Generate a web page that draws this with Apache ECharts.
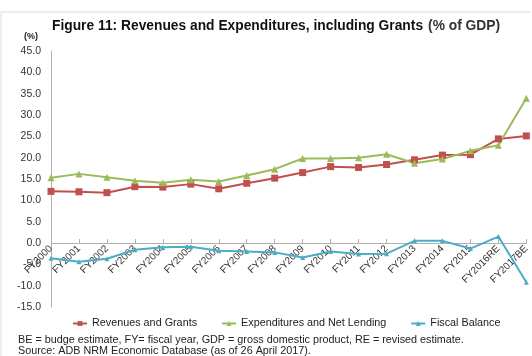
<!DOCTYPE html>
<html>
<head>
<meta charset="utf-8">
<script src="https://cdn.jsdelivr.net/npm/echarts@6/dist/echarts.min.js"></script>
<style>
  html, body { margin: 0; padding: 0; background: #fff; }
  #chart { width: 532px; height: 356px; }
</style>
</head>
<body>
<div id="chart"></div>
<script>
var years = ["FY2000", "FY2001", "FY2002", "FY2003", "FY2004", "FY2005", "FY2006", "FY2007", "FY2008",
    "FY2009", "FY2010", "FY2011", "FY2012", "FY2013", "FY2014", "FY2015", "FY2016RE", "FY2017BE"];
var revenues = [12.1, 12.0, 11.8, 13.2, 13.1, 13.8, 12.7, 14.0, 15.2, 16.5, 17.9, 17.7, 18.4, 19.5, 20.6, 20.7, 24.4, 25.1];
var expenditures = [15.3, 16.2, 15.4, 14.6, 14.1, 14.8, 14.4, 15.8, 17.3, 19.8, 19.8, 20.0, 20.8, 18.7, 19.7, 21.6, 22.9, 33.9];
var balance = [-3.6, -4.4, -3.7, -1.6, -1.0, -0.9, -1.8, -2.0, -2.2, -3.4, -2.0, -2.6, -2.5, 0.5, 0.5, -1.3, 1.5, -9.2];

var font = "Liberation Sans, Arial, sans-serif";

function lineSeries(name, data, color, symbol, size) {
    return {
        name: name, type: "line", data: data,
        symbol: symbol, symbolSize: size,
        lineStyle: {color: color, width: 2},
        itemStyle: {color: color},
        z: 3
    };
}

var chart = echarts.init(document.getElementById("chart"));
chart.setOption({
    backgroundColor: "#fff",
    animation: false,
    textStyle: {fontFamily: font},
    graphic: [
        {type: "polyline", shape: {points: [[1, 356], [1, 12], [531, 12]]}, style: {stroke: "#dcdcdc", lineWidth: 1, fill: null}},
        {type: "text", left: 24, top: 32, style: {text: "(%)", font: "bold 9px " + font, fill: "#222"}},
        {type: "text", left: 18, top: 335, style: {text: "BE = budge estimate, FY= fiscal year, GDP = gross domestic product, RE = revised estimate.", font: "10.8px " + font, fill: "#222"}},
        {type: "text", left: 18, top: 346, style: {text: "Source: ADB NRM Economic Database (as of 26 April 2017).", font: "10.8px " + font, fill: "#222"}}
    ],
    title: {
        left: 47, top: 12,
        text: "{b|Figure 11: Revenues and Expenditures, including Grants} {n|(% of GDP)}",
        textStyle: {
            rich: {
                b: {fontFamily: font, fontWeight: "bold", fontSize: 13.8, color: "#111"},
                n: {fontFamily: font, fontSize: 13.8, color: "#333"}
            }
        }
    },
    legend: {
        top: 313, left: 67, itemGap: 24, itemWidth: 14, itemHeight: 6,
        textStyle: {fontFamily: font, fontSize: 10.8, color: "#222"},
        data: ["Revenues and Grants", "Expenditures and Net Lending", "Fiscal Balance"]
    },
    grid: {left: 51, right: 1, top: 51, bottom: 49, containLabel: false},
    xAxis: {
        type: "category", data: years, boundaryGap: false,
        position: "bottom", offset: -64,
        axisLine: {onZero: false, lineStyle: {color: "#b0b0b0"}},
        axisTick: {inside: true, length: 4, alignWithLabel: true, lineStyle: {color: "#b0b0b0"}},
        axisLabel: {rotate: 45, fontSize: 10, color: "#333", margin: 4, interval: 0, fontFamily: font}
    },
    yAxis: {
        type: "value", min: -15, max: 45, interval: 5,
        axisLine: {show: true, lineStyle: {color: "#b0b0b0"}},
        axisTick: {show: false},
        splitLine: {show: false},
        axisLabel: {fontSize: 10.5, color: "#333", margin: 10, fontFamily: font,
            formatter: function (v) { return v.toFixed(1); }}
    },
    series: [
        lineSeries("Revenues and Grants", revenues, "#C0504D", "rect", 7),
        lineSeries("Expenditures and Net Lending", expenditures, "#9BBB59", "triangle", 7),
        lineSeries("Fiscal Balance", balance, "#4BACC6", "triangle", 5)
    ]
});
</script>
</body>
</html>
